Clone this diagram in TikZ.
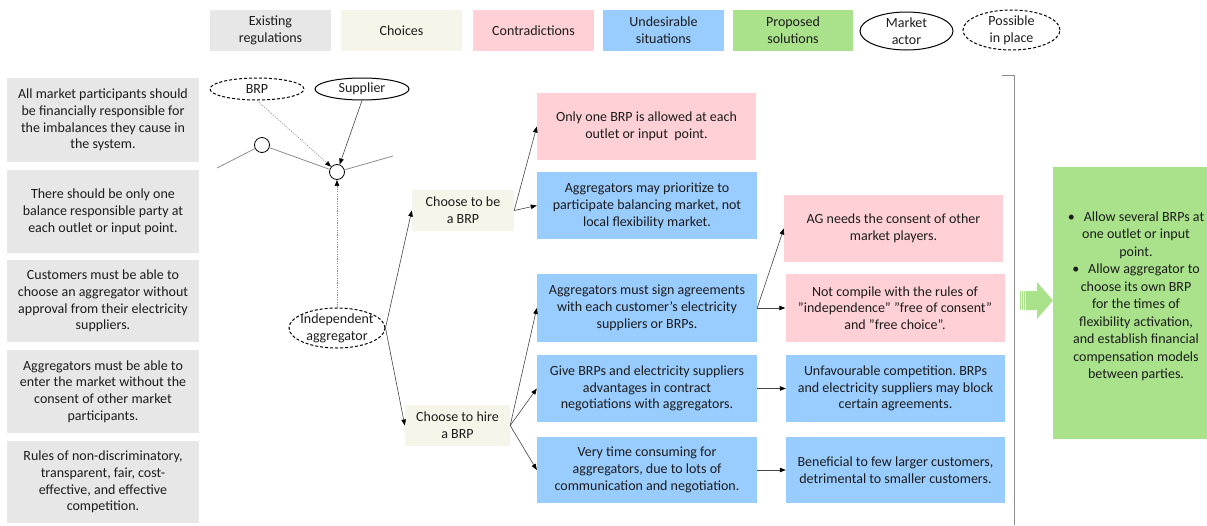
\documentclass[tikz,border=0pt]{standalone}
\usepackage{fontspec}
\setmainfont{Carlito}
\usetikzlibrary{shapes.geometric,arrows.meta}
\frenchspacing

\definecolor{regc}{HTML}{E7E7E7}
\definecolor{choc}{HTML}{F5F5E9}
\definecolor{conc}{HTML}{FFD0D5}
\definecolor{undc}{HTML}{99CCFF}
\definecolor{proc}{HTML}{A9E28A}
\definecolor{txtc}{HTML}{1C1C1C}
\definecolor{linec}{HTML}{454545}
\definecolor{wirec}{HTML}{8C8C8C}

\begin{document}
\begin{tikzpicture}[x=1pt,y=-1pt,
  every node/.style={font=\fontsize{14}{16.8}\selectfont, text=txtc, align=center, inner sep=0pt},
  sized/.style 2 args={rectangle, minimum width=#1, minimum height=#2},
  reg/.style={fill=regc},
  cho/.style={fill=choc},
  con/.style={fill=conc},
  und/.style={fill=undc},
  pro/.style={fill=proc},
  actor/.style={ellipse, draw=black, line width=1pt, inner sep=-6pt},
  possible/.style={ellipse, draw=black, line width=1pt, dash pattern=on 3pt off 2pt, inner sep=-6pt},
  junction/.style={circle, draw=black, line width=0.8pt, fill=white, minimum size=15pt, inner sep=0pt},
  wire/.style={draw=wirec, line width=0.8pt},
  conn/.style={draw=linec, line width=0.6pt, -{Triangle[length=6pt,width=4.5pt,color=black]}},
  dotc/.style={draw=wirec, line width=0.6pt, dash pattern=on 1.2pt off 1.2pt, -{Triangle[length=6pt,width=4.5pt,color=black]}},
  bracket/.style={draw=wirec, line width=0.8pt}
]
\useasboundingbox (0,0) rectangle (1207,525);

% legend
\node[reg, sized={121}{41}] (lreg) at (270.5,30.5) {Existing\\regulations};
\node[cho, sized={121}{41}] (lcho) at (401.5,30.5) {Choices};
\node[con, sized={121}{41}] (lcon) at (533.5,30.5) {Contradictions};
\node[und, sized={121}{41}] (lund) at (663.5,30.5) {Undesirable\\situations};
\node[pro, sized={120}{41}] (lpro) at (793,30.5) {Proposed\\solutions};
\node[actor, minimum width=93pt, minimum height=38pt] (lact) at (906.5,31) {Market\\actor};
\node[possible, minimum width=97pt, minimum height=40pt] (lpos) at (1011.5,30) {Possible\\in place};

% existing regulations
\node[reg, sized={192}{84}] (r1) at (103,120) {All market participants should\\be financially responsible for\\the imbalances they cause in\\the system.};
\node[reg, sized={192}{83}] (r2) at (103,211.5) {There should be only one\\balance responsible party at\\each outlet or input point.};
\node[reg, sized={192}{82}] (r3) at (103,301) {Customers must be able to\\choose an aggregator without\\approval from their electricity\\suppliers.};
\node[reg, sized={192}{83}] (r4) at (103,391.5) {Aggregators must be able to\\enter the market without the\\consent of other market\\participants.};
\node[reg, sized={192}{82}] (r5) at (103,482) {Rules of non-discriminatory,\\transparent, fair, cost-\\effective, and effective\\competition.};

% market actors and the grid
\node[possible, minimum width=94pt, minimum height=22pt] (brp) at (257,89) {BRP};
\node[actor, minimum width=94pt, minimum height=22pt] (sup) at (362,89) {Supplier};
\coordinate (wl) at (217,168);
\coordinate (wr) at (393,156);
\node[junction] (c1) at (262,145) {};
\node[junction] (c2) at (337,172) {};
\draw[wire] (wl) -- (c1) -- (c2) -- (wr);
\node[possible, minimum width=96pt, minimum height=40pt] (ag) at (337,328) {Independent\\aggregator};
\draw[dotc] (brp.south) -- (c2);
\draw[conn] (sup.south) -- (c2);
\draw[dotc] (ag.north) -- (c2.south);

% choices
\node[cho, sized={102}{41}] (be) at (463,210.5) {Choose to be\\a BRP};
\node[cho, sized={105}{41}] (hire) at (457.5,425.5) {Choose to hire\\a BRP};

% consequences
\node[con, sized={219}{67}] (only) at (646.5,126.5) {Only one BRP is allowed at each\\outlet or input\ \ point.};
\node[und, sized={220}{67}] (prio) at (647,205.5) {Aggregators may prioritize to\\participate balancing market, not\\local flexibility market.};
\node[und, sized={220}{68}] (sign) at (647,308) {Aggregators must sign agreements\\with each customer’s electricity\\suppliers or BRPs.};
\node[und, sized={220}{67}] (give) at (647,388.5) {Give BRPs and electricity suppliers\\advantages in contract\\negotiations with aggregators.};
\node[und, sized={220}{66}] (time) at (647,470) {Very time consuming for\\aggregators, due to lots of\\communication and negotiation.};

\node[con, sized={219}{67}] (agc) at (893.5,228.5) {AG needs the consent of other\\market players.};
\node[con, sized={219}{68}] (notc) at (895,308) {Not compile with the rules of\\”independence” ”free of consent”\\and ”free choice”.};
\node[und, sized={219}{67}] (unf) at (895.5,388.5) {Unfavourable competition. BRPs\\and electricity suppliers may block\\certain agreements.};
\node[und, sized={219}{66}] (ben) at (895.5,470) {Beneficial to few larger customers,\\detrimental to smaller customers.};

% connectors
\draw[conn] (ag.east) -- (be.west);
\draw[conn] (ag.east) -- (hire.west);
\draw[conn] (be.east) -- (only.west);
\draw[conn] (be.east) -- (prio.west);
\draw[conn] (hire.east) -- (sign.west);
\draw[conn] (hire.east) -- (give.west);
\draw[conn] (hire.east) -- (time.west);
\draw[conn] (sign.east) -- (agc.west);
\draw[conn] (sign.east) -- (notc.west);
\draw[conn] (give.east) -- (unf.west);
\draw[conn] (time.east) -- (ben.west);

% bracket around the analysis
\draw[bracket] (1002,75) -- (1014,75) -- (1014,525);

% striped block arrow
\fill[proc] (1020,291) rectangle (1021,310);
\fill[proc] (1022,291) rectangle (1023,310);
\fill[proc] (1024,291) rectangle (1025,310);
\fill[proc] (1026,291) -- (1037,291) -- (1037,282) -- (1053,300.5) -- (1037,319) -- (1037,310) -- (1026,310) -- cycle;

% proposed solutions
\node[pro, sized={178}{272}] (sol) at (1142,303) {};
\node[font=\fontsize{14}{17.5}\selectfont] (soltxt) at (1136,296.5) {\textbullet\hspace{9pt}Allow several BRPs at\\one outlet or input\\point.\\\textbullet\hspace{9pt}Allow aggregator to\\choose its own BRP\\for the times of\\flexibility activation,\\and establish financial\\compensation models\\between parties.};
\end{tikzpicture}
\end{document}
